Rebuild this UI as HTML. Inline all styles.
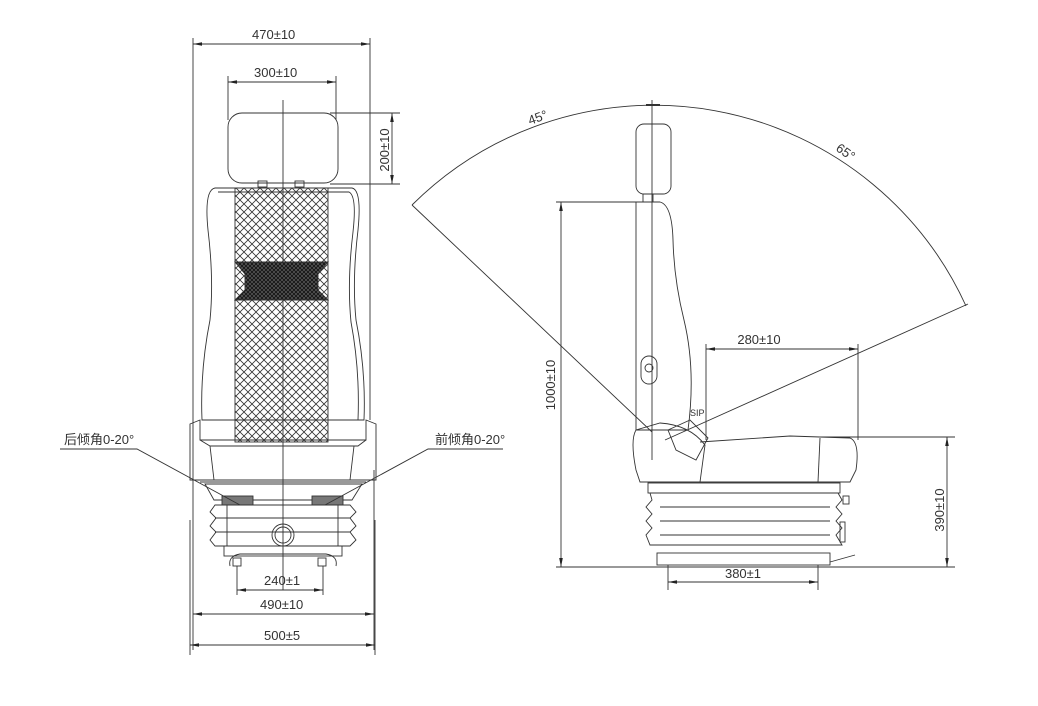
<!DOCTYPE html>
<html><head><meta charset="utf-8"><style>
html,body{margin:0;padding:0;background:#fff;}
svg{display:block}
text{font-family:"Liberation Sans","Noto Sans CJK SC",sans-serif;font-size:13px;fill:#333;}
</style></head><body>
<svg width="1038" height="706" viewBox="0 0 1038 706" xmlns="http://www.w3.org/2000/svg">
<defs>
<pattern id="mesh" width="8" height="8" patternUnits="userSpaceOnUse">
<path d="M0 0L8 8M8 0L0 8" stroke="#333" stroke-width="0.8"/>
</pattern>
<pattern id="dark" width="4" height="4" patternUnits="userSpaceOnUse">
<rect width="4" height="4" fill="#555"/><path d="M0 0L4 4M4 0L0 4" stroke="#111" stroke-width="0.8"/>
</pattern>
<marker id="a" viewBox="0 0 10 6" refX="10" refY="3" markerWidth="10" markerHeight="6" orient="auto-start-reverse"><path d="M0 1L10 3L0 5z" fill="#222"/></marker>
</defs>
<g fill="none" stroke="#333" stroke-width="0.9">
<line x1="193" y1="38" x2="193" y2="650"/>
<line x1="370" y1="38" x2="370" y2="420"/>
<line x1="193" y1="44" x2="370" y2="44" marker-start="url(#a)" marker-end="url(#a)"/>
<line x1="228" y1="76" x2="228" y2="120"/><line x1="336" y1="76" x2="336" y2="120"/>
<line x1="228" y1="82" x2="336" y2="82" marker-start="url(#a)" marker-end="url(#a)"/>
<line x1="330" y1="113" x2="400" y2="113"/><line x1="330" y1="184" x2="400" y2="184"/>
<line x1="392" y1="113" x2="392" y2="184" marker-start="url(#a)" marker-end="url(#a)"/>
<line x1="283" y1="100" x2="283" y2="590"/>
<rect x="228" y="113" width="110" height="70" rx="14"/>
<rect x="258" y="181" width="9" height="6"/><rect x="295" y="181" width="9" height="6"/>
<path d="M215 188 L352 188 Q362 190 358 230 Q352 280 356 320 Q366 370 364 420 L202 420 Q200 370 210 320 Q214 280 208 230 Q204 190 215 188Z"/>
<path d="M218 192 L349 192 Q357 196 353 232 Q347 282 351 322 Q360 370 358 420"/>
<rect x="235" y="188" width="93" height="254" fill="url(#mesh)"/>
<path d="M235 262 L245 262 L328 262 L318 274 L318 290 L328 300 L235 300 L245 290 L245 274Z" fill="url(#dark)"/>
<path d="M190 424 L200 420 L200 440 L366 440 L366 420 L376 424 L376 480 L190 480Z"/>
<path d="M200 440 L210 446 L358 446 L366 440 M210 446 L214 480 M354 446 L350 480"/>
<line x1="200" y1="482" x2="366" y2="482"/>
<path d="M205 484 L362 484 L352 500 L214 500Z"/>
<rect x="222" y="496" width="31" height="9" fill="#777"/><rect x="312" y="496" width="31" height="9" fill="#777"/>
<path d="M215 505 L350 505 L356 512 L350 518 L356 526 L350 532 L356 540 L350 546 L215 546 L210 540 L216 532 L210 526 L216 518 L210 512Z"/>
<line x1="215" y1="518" x2="350" y2="518"/><line x1="215" y1="532" x2="350" y2="532"/>
<line x1="227" y1="505" x2="227" y2="546"/><line x1="338" y1="505" x2="338" y2="546"/>
<rect x="224" y="546" width="118" height="10"/>
<circle cx="283" cy="535" r="11"/><circle cx="283" cy="535" r="8"/>
<path d="M230 566 Q228 556 240 554 L326 554 Q338 556 336 566"/>
<rect x="233" y="558" width="8" height="8"/><rect x="318" y="558" width="8" height="8"/>
<line x1="237" y1="566" x2="237" y2="595"/><line x1="323" y1="566" x2="323" y2="595"/>
<line x1="237" y1="590" x2="323" y2="590" marker-start="url(#a)" marker-end="url(#a)"/>
<line x1="374" y1="470" x2="374" y2="650"/>
<line x1="193" y1="614" x2="374" y2="614" marker-start="url(#a)" marker-end="url(#a)"/>
<line x1="190" y1="520" x2="190" y2="655"/><line x1="375" y1="520" x2="375" y2="655"/>
<line x1="190" y1="645" x2="375" y2="645" marker-start="url(#a)" marker-end="url(#a)"/>
<path d="M60 449 L137 449 L240 505"/>
<path d="M503 449 L428 449 L325 505"/>
<line x1="652" y1="100" x2="652" y2="460"/>
<line x1="646" y1="105" x2="660" y2="105" stroke-width="2"/>
<path d="M412 205 A343 343 0 0 1 966 306"/>
<line x1="412" y1="205" x2="652" y2="432"/>
<line x1="968" y1="304" x2="665" y2="440"/>
<rect x="636" y="124" width="35" height="70" rx="8"/>
<rect x="643" y="194" width="10" height="8"/>
<path d="M636 202 L660 202 Q672 205 673 240 Q674 280 684 320 Q696 370 688 430 L636 430Z"/>
<rect x="641" y="356" width="16" height="28" rx="8"/><circle cx="649" cy="368" r="4"/>
<path d="M636 430 Q630 440 636 470 L640 482 L700 482 L705 445 Q690 425 660 423Z"/>
<path d="M668 430 L690 420 L708 438 L696 460 L676 450Z"/>
<path d="M700 442 L790 436 L850 438 Q860 442 856 470 L850 482 L700 482"/>
<line x1="820" y1="438" x2="818" y2="482"/>
<rect x="648" y="483" width="192" height="10"/>
<path d="M650 493 L838 493 L842 500 L836 507 L842 514 L836 521 L842 528 L836 535 L842 545 L650 545 L646 535 L652 528 L646 521 L652 514 L646 507 L652 500Z"/>
<line x1="660" y1="507" x2="830" y2="507"/><line x1="660" y1="521" x2="830" y2="521"/><line x1="660" y1="535" x2="830" y2="535"/>
<rect x="843" y="496" width="6" height="8"/>
<rect x="840" y="522" width="5" height="20"/>
<rect x="657" y="553" width="173" height="12"/>
<path d="M830 562 L855 555"/>
<line x1="556" y1="202" x2="650" y2="202"/>
<line x1="556" y1="567" x2="955" y2="567"/>
<line x1="561" y1="202" x2="561" y2="567" marker-start="url(#a)" marker-end="url(#a)"/>
<line x1="706" y1="344" x2="706" y2="440"/><line x1="858" y1="344" x2="858" y2="440"/>
<line x1="706" y1="349" x2="858" y2="349" marker-start="url(#a)" marker-end="url(#a)"/>
<line x1="820" y1="437" x2="955" y2="437"/>
<line x1="947" y1="437" x2="947" y2="567" marker-start="url(#a)" marker-end="url(#a)"/>
<line x1="668" y1="565" x2="668" y2="590"/><line x1="818" y1="565" x2="818" y2="590"/>
<line x1="668" y1="582" x2="818" y2="582" marker-start="url(#a)" marker-end="url(#a)"/>
</g>
<g stroke="none">
<text x="252" y="39">470±10</text>
<text x="254" y="77">300±10</text>
<text x="389" y="150" transform="rotate(-90 389 150)" text-anchor="middle">200±10</text>
<text x="64" y="444">后倾角0-20°</text>
<text x="435" y="444">前倾角0-20°</text>
<text x="264" y="585">240±1</text>
<text x="260" y="609">490±10</text>
<text x="264" y="640">500±5</text>
<text x="530" y="125" transform="rotate(-20 530 125)">45°</text>
<text x="835" y="150" transform="rotate(35 835 150)">65°</text>
<text x="555" y="385" transform="rotate(-90 555 385)" text-anchor="middle">1000±10</text>
<text x="759" y="344" text-anchor="middle">280±10</text>
<text x="944" y="510" transform="rotate(-90 944 510)" text-anchor="middle">390±10</text>
<text x="743" y="578" text-anchor="middle">380±1</text>
<text x="690" y="416" style="font-size:9px">SIP</text>
</g>
</svg>
</body></html>
